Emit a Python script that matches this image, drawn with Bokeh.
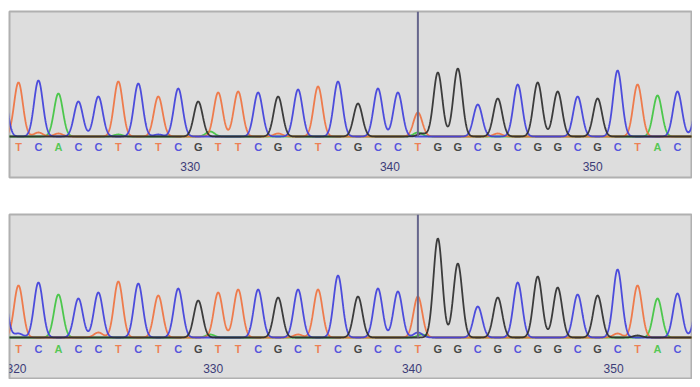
import numpy as np
from bokeh.plotting import figure
from bokeh.layouts import column
from bokeh.models import Range1d, ColumnDataSource
from bokeh.core.properties import value
from bokeh.embed import file_html
from bokeh.resources import INLINE

# ---- data -------------------------------------------------------------
bases = list("TCACCTCTCGTTCGCTCGCCTGGCGCGGCGCTAC")
top_heights = [54, 56, 43, 35, 40, 55, 53, 40, 48, 35, 44, 45, 44, 40, 47, 50, 55, 33, 48, 44,
               24, 64, 68, 32, 38, 52, 54, 45, 40, 38, 66, 52, 39, 45]
bottom_heights = [52, 55, 43, 39, 45, 56, 54, 42, 49, 37, 45, 48, 48, 40, 48, 48, 62, 41, 49, 46,
                  41, 99, 74, 31, 40, 55, 61, 50, 43, 42, 68, 52, 39, 44]
# peaks of neighbouring bases just outside the view
edge_bases = ["C", "C"]
edge_pos = [-0.8, 34.1]
edge_heights = [55, 50]
# minor (secondary) peaks: base, position, height
top_minor_bases = ["T", "T", "A", "C", "A", "T", "A", "G", "T", "A"]
top_minor_pos = [1, 2, 5, 7, 9.6, 13, 20, 20.2, 24, 32]
top_minor_heights = [4, 3, 2, 2, 5, 3, 4, 3, 3, 2]
bottom_minor_bases = ["C", "T", "A", "T", "C", "A", "T", "G"]
bottom_minor_pos = [0, 4, 9.6, 14, 20, 20.2, 30, 31]
bottom_minor_heights = [4, 5, 3, 3, 5, 3, 4, 2]
cursor_pos = [20]
top_tick_pos = [8.6, 18.6, 28.75]
top_tick_labels = ["330", "340", "350"]
bottom_tick_pos = [-0.1, 9.75, 19.7, 29.8]
bottom_tick_labels = ["320", "330", "340", "350"]

COLORS = {"A": "#3cc43c", "C": "#3c3cdc", "G": "#2a2a2a", "T": "#f0703c"}
SIGMA = 0.22
XS = np.linspace(-1.2, 35.0, 2400)


def traces(heights, minor_b, minor_p, minor_h):
    ys = {b: np.zeros_like(XS) for b in "ACGT"}
    peaks = [(b, i, h) for i, (b, h) in enumerate(zip(bases, heights))]
    peaks += list(zip(edge_bases, edge_pos, edge_heights))
    peaks += list(zip(minor_b, minor_p, minor_h))
    for b, pos, h in peaks:
        ys[b] += h * np.exp(-0.5 * ((XS - pos) / SIGMA) ** 2)
    return ys


def panel(heights, minor_b, minor_p, minor_h, tick_pos, tick_labels,
          y0, y1, letter_y, num_y, h, mb_top, mb_bottom):
    p = figure(width=692, height=h, output_backend="svg", toolbar_location=None,
               x_range=Range1d(-0.45, 33.7), y_range=Range1d(y0, y1),
               x_axis_location=None, y_axis_location=None,
               min_border_left=9, min_border_right=1,
               min_border_top=mb_top, min_border_bottom=mb_bottom)
    p.grid.visible = False
    p.background_fill_color = "#dddddd"
    p.border_fill_color = "white"
    p.outline_line_color = "#b0b0b0"
    p.outline_line_width = 2

    ys = traces(heights, minor_b, minor_p, minor_h)
    for b in ["A", "T", "C", "G"]:
        p.line(XS, ys[b], line_color=COLORS[b], line_width=1.8, line_alpha=0.9)

    p.segment(x0=cursor_pos, x1=cursor_pos, y0=[0], y1=[y1], line_color="#66668c",
              line_width=2)

    src = ColumnDataSource(dict(x=list(range(len(bases))), y=[letter_y] * len(bases),
                                t=bases, c=[COLORS[b] for b in bases]))
    p.text(x="x", y="y", text="t", text_color="c", source=src,
           text_font=value("Liberation Sans"), text_font_size="11px",
           text_font_style="bold", text_alpha=0.85,
           text_align="center", text_baseline="middle")
    p.text(x=tick_pos, y=[num_y] * len(tick_pos), text=tick_labels,
           text_color="#3c3c78", text_font=value("Liberation Sans"),
           text_font_size="12px", text_align="center", text_baseline="middle")
    return p


p1 = panel(top_heights, top_minor_bases, top_minor_pos, top_minor_heights,
           top_tick_pos, top_tick_labels, -41, 125, -10, -30, 195, 11, 18)
p2 = panel(bottom_heights, bottom_minor_bases, bottom_minor_pos, bottom_minor_heights,
           bottom_tick_pos, bottom_tick_labels, -41, 123, -11, -31, 184, 19, 1)

layout = column(p1, p2, spacing=0)
open("out.html", "w").write(file_html(layout, INLINE))
